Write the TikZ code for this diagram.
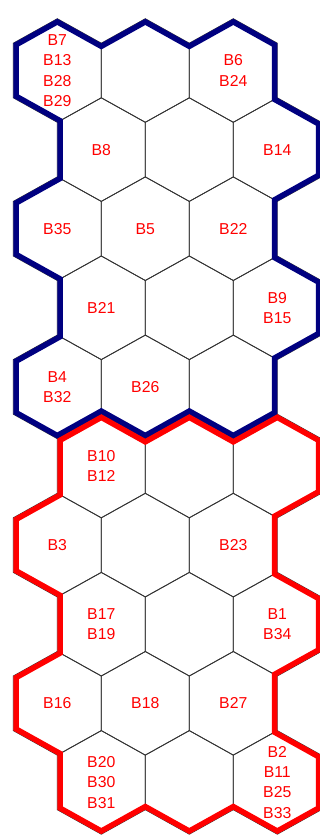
\documentclass[tikz,border=0pt]{standalone}
\usepackage{fontspec}
\setmainfont{Liberation Sans}
\definecolor{hexblue}{RGB}{0,0,128}
\definecolor{hexred}{RGB}{255,0,0}
\def\HA{51.8}
\def\HB{27.3}
\def\HH{44}
\def\RD{79.1}
\def\YO{70.5}
\newcommand\hxpt[3]{({#1},{\YO+(#2-1)*\RD+(#3)})}
\newcommand\bluerimpath{\hxpt{13.3}{1}{-\HB} -- \hxpt{57.3}{1}{-\HA} -- \hxpt{101.3}{1}{-\HB} -- \hxpt{145.3}{1}{-\HA} -- \hxpt{189.3}{1}{-\HB} -- \hxpt{233.3}{1}{-\HA} -- \hxpt{277.3}{1}{-\HB} -- \hxpt{277.3}{1}{\HB} -- \hxpt{321.3}{2}{-\HB} -- \hxpt{321.3}{2}{\HB} -- \hxpt{277.3}{3}{-\HB} -- \hxpt{277.3}{3}{\HB} -- \hxpt{321.3}{4}{-\HB} -- \hxpt{321.3}{4}{\HB} -- \hxpt{277.3}{5}{-\HB} -- \hxpt{277.3}{5}{\HB} -- \hxpt{233.3}{5}{\HA} -- \hxpt{189.3}{5}{\HB} -- \hxpt{145.3}{5}{\HA} -- \hxpt{101.3}{5}{\HB} -- \hxpt{57.3}{5}{\HA} -- \hxpt{13.3}{5}{\HB} -- \hxpt{13.3}{5}{-\HB} -- \hxpt{57.3}{4}{\HB} -- \hxpt{57.3}{4}{-\HB} -- \hxpt{13.3}{3}{\HB} -- \hxpt{13.3}{3}{-\HB} -- \hxpt{57.3}{2}{\HB} -- \hxpt{57.3}{2}{-\HB} -- \hxpt{13.3}{1}{\HB} -- cycle}
\newcommand\redrimpath{\hxpt{57.3}{6}{-\HB} -- \hxpt{101.3}{6}{-\HA} -- \hxpt{145.3}{6}{-\HB} -- \hxpt{189.3}{6}{-\HA} -- \hxpt{233.3}{6}{-\HB} -- \hxpt{277.3}{6}{-\HA} -- \hxpt{321.3}{6}{-\HB} -- \hxpt{321.3}{6}{\HB} -- \hxpt{277.3}{7}{-\HB} -- \hxpt{277.3}{7}{\HB} -- \hxpt{321.3}{8}{-\HB} -- \hxpt{321.3}{8}{\HB} -- \hxpt{277.3}{9}{-\HB} -- \hxpt{277.3}{9}{\HB} -- \hxpt{321.3}{10}{-\HB} -- \hxpt{321.3}{10}{\HB} -- \hxpt{277.3}{10}{\HA} -- \hxpt{233.3}{10}{\HB} -- \hxpt{189.3}{10}{\HA} -- \hxpt{145.3}{10}{\HB} -- \hxpt{101.3}{10}{\HA} -- \hxpt{57.3}{10}{\HB} -- \hxpt{57.3}{10}{-\HB} -- \hxpt{13.3}{9}{\HB} -- \hxpt{13.3}{9}{-\HB} -- \hxpt{57.3}{8}{\HB} -- \hxpt{57.3}{8}{-\HB} -- \hxpt{13.3}{7}{\HB} -- \hxpt{13.3}{7}{-\HB} -- \hxpt{57.3}{6}{\HB} -- cycle}
\tikzset{
  hexedge/.style={draw=black!80, line width=0.8pt, line join=miter},
  bluerim/.style={draw=hexblue, line width=11pt, line join=miter},
  redrim/.style={draw=hexred, line width=11pt, line join=miter},
  lbl/.style={text=hexred, font=\fontsize{15.8}{20.3}\selectfont, align=center, inner sep=0pt}
}
\begin{document}
\begin{tikzpicture}[x=1pt,y=-1pt]
\useasboundingbox (0,0) rectangle (320,836);
\clip (0,0) rectangle (320,836);
% thin cell edges
\foreach \r in {1,...,10}{
  \foreach \c in {0,1,2}{
    \pgfmathsetmacro\cy{\YO+(\r-1)*\RD}
    \pgfmathsetmacro\cx{57.3+88*\c+44*(1-mod(\r,2))}
    \draw[hexedge] (\cx,\cy-\HA) -- (\cx+\HH,\cy-\HB) -- (\cx+\HH,\cy+\HB) -- (\cx,\cy+\HA) -- (\cx-\HH,\cy+\HB) -- (\cx-\HH,\cy-\HB) -- cycle;
  }
}
% thick region outlines, drawn inside each region
\begin{scope}
  \clip \bluerimpath;
  \draw[bluerim] \bluerimpath;
\end{scope}
\begin{scope}
  \clip \redrimpath;
  \draw[redrim] \redrimpath;
\end{scope}
% labels
\node[lbl] (b7)  at (57.3,{\YO+0*\RD})  {B7\\B13\\B28\\B29};
\node[lbl] (b6)  at (233.3,{\YO+0*\RD}) {B6\\B24};
\node[lbl] (b8)  at (101.3,{\YO+1*\RD}) {B8};
\node[lbl] (b14) at (277.3,{\YO+1*\RD}) {B14};
\node[lbl] (b35) at (57.3,{\YO+2*\RD})  {B35};
\node[lbl] (b5)  at (145.3,{\YO+2*\RD}) {B5};
\node[lbl] (b22) at (233.3,{\YO+2*\RD}) {B22};
\node[lbl] (b21) at (101.3,{\YO+3*\RD}) {B21};
\node[lbl] (b9)  at (277.3,{\YO+3*\RD}) {B9\\B15};
\node[lbl] (b4)  at (57.3,{\YO+4*\RD})  {B4\\B32};
\node[lbl] (b26) at (145.3,{\YO+4*\RD}) {B26};
\node[lbl] (b10) at (101.3,{\YO+5*\RD}) {B10\\B12};
\node[lbl] (b3)  at (57.3,{\YO+6*\RD})  {B3};
\node[lbl] (b23) at (233.3,{\YO+6*\RD}) {B23};
\node[lbl] (b17) at (101.3,{\YO+7*\RD}) {B17\\B19};
\node[lbl] (b1)  at (277.3,{\YO+7*\RD}) {B1\\B34};
\node[lbl] (b16) at (57.3,{\YO+8*\RD})  {B16};
\node[lbl] (b18) at (145.3,{\YO+8*\RD}) {B18};
\node[lbl] (b27) at (233.3,{\YO+8*\RD}) {B27};
\node[lbl] (b20) at (101.3,{\YO+9*\RD}) {B20\\B30\\B31};
\node[lbl] (b2)  at (277.3,{\YO+9*\RD}) {B2\\B11\\B25\\B33};
\end{tikzpicture}
\end{document}
